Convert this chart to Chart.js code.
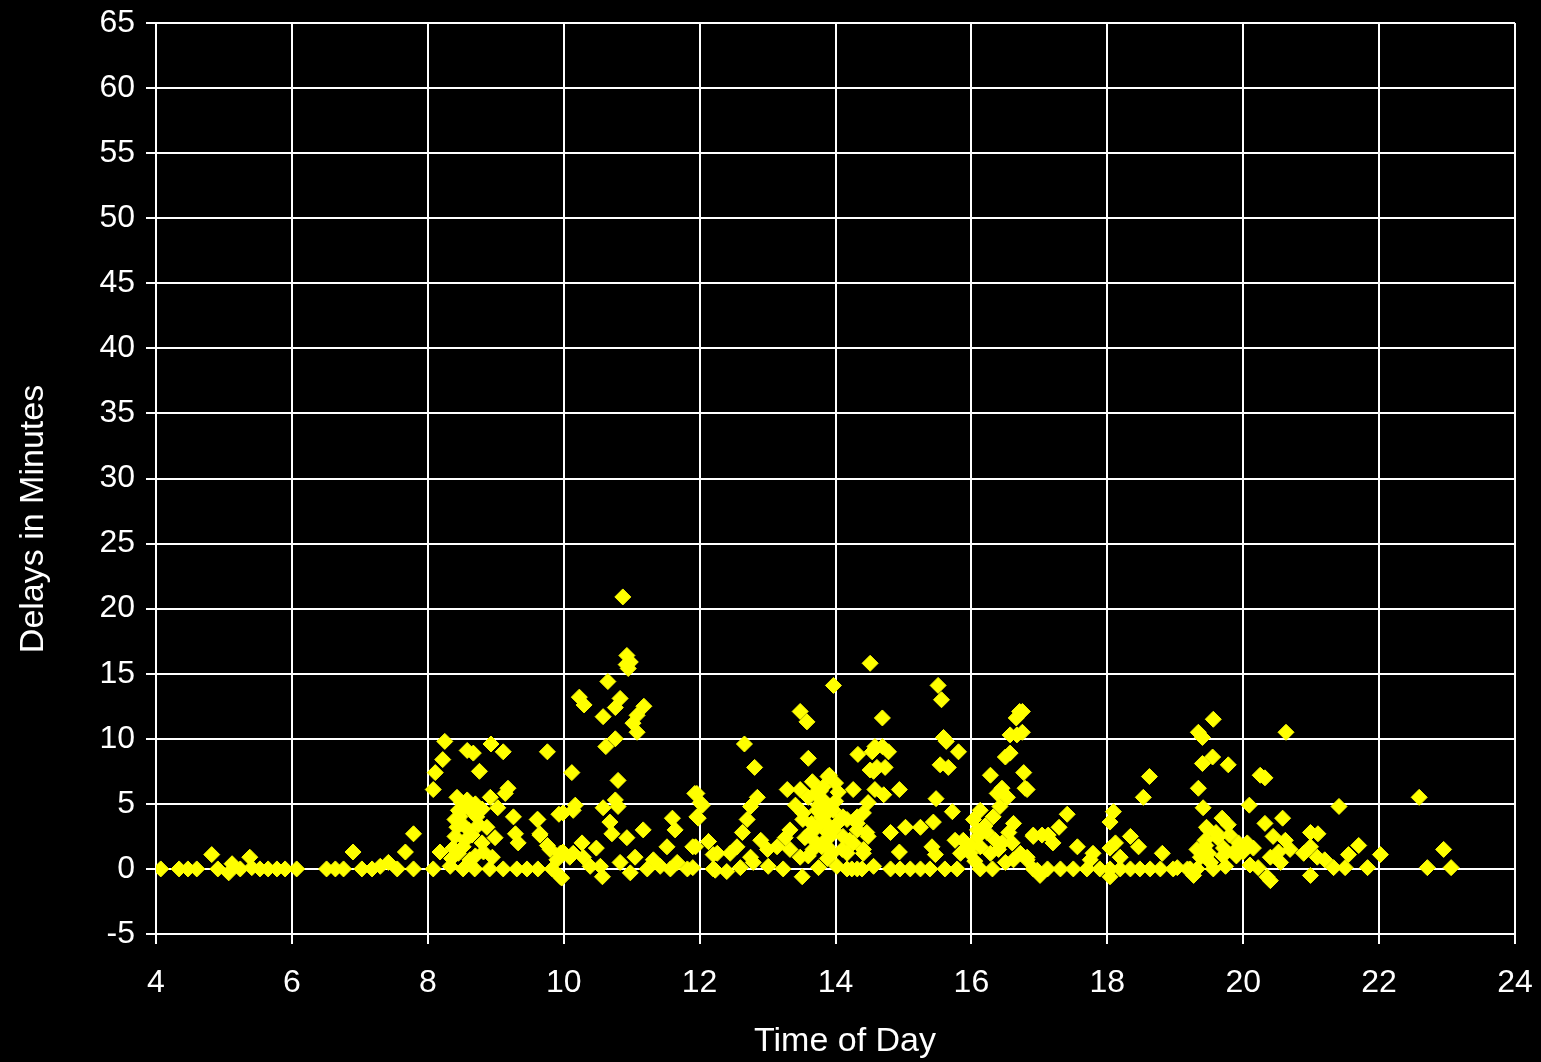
<!DOCTYPE html>
<html>
<head>
<meta charset="utf-8">
<script src="https://cdn.jsdelivr.net/npm/chart.js@4"></script>
<style>
html,body{margin:0;padding:0;background:#000;}
#wrap{width:1541px;height:1062px;}
</style>
</head>
<body>
<div id="wrap"><canvas id="c" width="1541" height="1062"></canvas></div>
<script>
// Time of day (hours) for each observed delay
const times = [
  4.07,4.34,4.47,4.6,4.82,4.91,5.07,5.12,5.24,5.38,5.41,5.53,5.65,5.78,5.9,6.07,6.51,6.64,6.76,6.9,
  7.03,7.18,7.3,7.42,7.55,7.67,7.79,7.79,8.08,8.08,8.11,8.22,8.25,
  8.58,8.67,8.93,9.11,9.76,10.12,8.76,9.18,9.14,8.43,8.58,8.92,9.03,9.26,9.61,8.47,8.72,8.43,8.87,
  9.29,9.33,9.65,8.99,8.52,8.18,8.37,8.82,9.76,9.99,8.33,8.52,8.69,8.91,9.11,9.31,9.46,9.62,9.83,
  9.95,8.62,8.95,9.9,10.14,9.99,10.14,
  8.45,8.55,8.5,8.6,8.4,8.55,8.65,8.45,8.7,8.35,8.6,8.8,8.75,8.5,8.8,8.4,8.65,8.7,
  10.87,10.93,10.98,10.95,10.92,10.65,10.23,10.3,10.83,10.76,11.18,11.08,11.02,11.08,10.58,10.76,
  10.62,10.8,10.17,9.93,10.58,10.76,10.8,9.62,9.65,10.68,10.71,10.27,10.48,10.93,11.17,11.6,11.64,
  11.52,11.93,12.01,11.98,11.9,12.13,12.2,9.95,9.8,10.09,10.29,10.54,10.83,11.05,11.32,11.42,11.67,
  11.82,9.97,10.57,10.98,12.2,10.39,11.23,11.57,
  13.48,13.58,12.66,12.81,13.6,13.89,14.33,14.51,13.29,13.48,13.66,13.82,14.04,14.26,11.96,12.04,
  11.96,12.85,12.75,12.7,12.63,13.41,13.52,13.73,13.87,13.33,13.26,13.63,13.92,13.8,14.32,14.32,
  14.26,14.41,14.46,12.13,11.94,12.26,12.45,12.55,12.75,12.9,13.0,13.14,13.33,13.48,13.67,12.23,
  12.4,12.6,12.79,13.01,13.23,13.51,13.75,14.02,14.17,14.32,11.9,13.52,13.82,13.97,14.11,13.97,
  14.11,13.73,13.97,
  13.6,13.7,13.75,13.8,13.65,13.85,13.9,14.0,14.05,13.95,14.1,13.7,13.55,14.0,13.78,13.6,13.88,
  14.51,15.51,15.56,14.69,15.59,15.63,15.81,16.71,16.66,16.67,16.57,16.57,16.5,16.77,16.79,16.28,
  16.45,16.53,16.38,14.58,14.69,14.78,14.54,14.61,14.73,14.56,13.91,14.58,14.71,14.94,15.54,15.66,
  15.48,15.72,14.48,14.41,14.32,14.48,14.81,15.03,15.25,15.44,15.42,15.47,14.94,15.76,15.88,16.03,
  16.13,16.32,16.42,16.62,16.09,16.23,15.84,15.98,16.13,16.28,16.45,16.6,16.91,16.72,16.62,16.82,
  16.97,13.88,13.88,13.88,14.17,14.21,14.17,14.41,14.24,14.39,14.56,14.81,14.95,15.1,15.25,15.39,
  15.61,15.79,16.13,16.31,16.5,
  16.2,16.35,16.4,16.1,16.55,16.0,15.9,16.05,
  16.75,16.75,16.82,17.41,17.29,17.2,17.13,16.91,17.04,17.56,18.09,18.04,18.62,18.53,18.34,18.46,
  18.12,18.04,18.81,17.79,19.37,19.44,19.49,19.41,19.34,19.4,19.55,19.34,19.4,19.56,
  16.91,17.12,17.31,17.5,17.7,17.89,18.04,18.19,18.34,18.48,18.63,18.78,18.97,19.18,19.32,
  17.01,18.04,19.27,16.82,17.75,18.19,
  20.63,19.78,20.32,20.25,22.59,20.09,21.41,19.69,19.78,20.58,20.32,19.46,20.99,21.1,20.44,19.62,
  21.7,22.02,22.95,21.55,20.62,20.69,19.32,19.93,20.06,20.15,19.86,19.49,19.71,20.99,20.89,20.52,
  20.4,19.52,19.03,19.22,19.56,19.74,20.1,20.22,20.35,20.55,20.99,21.2,21.33,21.5,21.83,22.71,
  23.06,21.09,20.4,
  19.6,19.7,19.45,19.8,19.9,20.0
];

// Delay in minutes for each observation (same order as times)
const delays = [
  0,0,0,0,1.1,0,-0.3,0.4,0,0.9,0.1,0,0,0,0,0,0,0,0,1.3,
  0,0,0.2,0.5,0,1.3,2.7,0,0,6.1,7.4,8.4,9.8,
  9.1,8.9,9.6,9.0,9.0,7.4,7.5,6.2,5.8,5.5,5.3,5.5,4.7,4.0,3.8,4.0,4.0,3.2,3.2,
  2.7,2.0,2.7,2.4,1.7,1.3,1.6,1.3,1.8,1.3,0.2,0,0,0,0,0,0,0,0,
  -0.6,0.7,0.9,0.7,4.5,4.3,1.2,
  4.5,4.8,3.5,3.0,2.5,2.2,2.6,1.2,1.0,0.8,0.4,2.0,3.4,5.1,4.6,3.8,4.4,5.0,
  20.9,16.4,15.9,15.4,15.7,14.4,13.2,12.6,13.1,12.4,12.5,11.8,11.2,10.5,11.7,10.0,
  9.4,6.8,4.9,4.2,4.7,5.3,4.8,3.8,2.6,3.6,2.7,2.0,1.6,2.4,3.0,3.9,3.0,
  1.7,5.8,5.1,3.9,1.7,2.1,1.1,1.2,1.5,0.9,0.9,0.2,0.5,0.9,0.7,0.2,0.5,
  0,-0.7,-0.6,-0.3,0,0.2,0,0,
  12.1,11.3,9.6,7.8,8.5,7.1,8.8,7.6,6.1,6.1,6.7,6.3,5.9,6.1,5.8,4.9,
  4.0,5.5,4.8,3.8,2.8,4.9,4.3,4.5,3.5,3.0,2.4,2.8,2.5,1.7,4.0,3.0,
  2.0,1.5,2.8,2.1,1.7,1.2,1.2,1.7,0.9,2.2,1.5,1.7,1.5,0.9,1.5,-0.1,
  -0.2,0.1,0.5,0.2,0,-0.6,0.1,0.2,0,0,0.1,3.8,5.3,4.5,4.0,3.0,
  2.5,3.2,14.1,
  5.5,5.8,4.9,4.0,3.5,2.2,4.6,5.2,3.6,1.2,1.5,2.1,2.4,6.6,6.0,1.0,0.8,
  15.8,14.1,13.0,11.6,10.1,9.8,9.0,12.1,11.6,10.3,10.3,8.9,8.6,7.4,6.2,7.2,
  6.2,5.5,5.8,9.4,9.4,9.0,9.0,7.8,7.8,7.5,7.2,6.1,5.7,6.1,8.0,7.8,
  5.4,4.4,5.1,4.3,3.5,2.5,2.8,3.2,3.2,3.6,1.7,1.1,1.3,2.2,2.2,3.8,
  4.5,4.0,4.8,3.5,3.0,2.8,1.2,1.2,1.7,1.2,2.0,2.0,2.5,1.2,0.7,0.7,
  -0.1,4.3,2.8,1.7,3.8,2.2,1.2,1.2,0,0,0.2,0,0,0,0,0,
  0,0,0,0,0.5,
  3.3,2.2,1.5,2.5,2.8,1.8,1.5,0.6,
  12.1,10.5,6.1,4.2,3.2,2.0,2.6,2.6,2.6,1.7,4.4,3.6,7.1,5.5,2.5,1.7,
  2.0,1.6,1.2,1.2,0.9,2.2,3.0,4.7,6.2,8.1,8.6,10.5,10.1,11.5,
  0,0,0,0,0,0,0,0,0,0,0,0,0,0,0,
  -0.5,-0.6,-0.5,0.9,0.7,0.9,
  10.5,8.0,7.0,7.2,5.5,4.9,4.8,3.9,3.4,3.9,3.5,3.2,2.8,2.7,2.5,2.4,
  1.8,1.1,1.5,1.1,2.2,1.5,1.5,2.0,2.0,1.6,1.3,1.2,1.6,1.7,1.2,1.3,
  0.9,0.5,0.1,0,0,0.2,0.3,0.1,-0.6,0.5,-0.5,0.7,0.1,0.1,0.1,0.1,
  0.1,0.9,-0.9,
  2.8,1.0,1.8,2.6,1.0,1.3
];

const xTickValues = [4, 6, 8, 10, 12, 14, 16, 18, 20, 22, 24];
const yTickValues = [-5, 0, 5, 10, 15, 20, 25, 30, 35, 40, 45, 50, 55, 60, 65];
const xTitle = 'Time of Day';
const yTitle = 'Delays in Minutes';

const FONT = 'Liberation Sans, Arial, sans-serif';

const bgPlugin = {
  id: 'bg',
  beforeDraw(chart) {
    const c = chart.ctx;
    c.save();
    c.fillStyle = '#000000';
    c.fillRect(0, 0, chart.width, chart.height);
    c.restore();
  }
};

const titlePlugin = {
  id: 'axisTitles',
  afterDraw(chart) {
    const c = chart.ctx;
    c.save();
    c.fillStyle = '#ffffff';
    c.font = '34px ' + FONT;
    c.textAlign = 'center';
    c.textBaseline = 'alphabetic';
    c.fillText(xTitle, 845, 1051);
    c.translate(43, 519);
    c.rotate(-Math.PI / 2);
    c.fillText(yTitle, 0, 0);
    c.restore();
  }
};

const points = times.map((t, i) => ({ x: t, y: delays[i] }));

new Chart(document.getElementById('c').getContext('2d'), {
  type: 'scatter',
  data: {
    datasets: [{
      data: points,
      pointStyle: 'rectRot',
      radius: 8,
      hoverRadius: 8,
      backgroundColor: '#ffff00',
      borderColor: '#ffff00',
      borderWidth: 1
    }]
  },
  options: {
    responsive: false,
    animation: false,
    events: [],
    layout: { padding: { top: 23, right: 26, left: 0, bottom: 0 } },
    plugins: { legend: { display: false }, tooltip: { enabled: false } },
    scales: {
      x: {
        type: 'linear',
        min: 4, max: 24,
        afterBuildTicks: s => { s.ticks = xTickValues.map(v => ({ value: v })); },
        afterFit: s => { s.height = 128; s.paddingLeft = 0; s.paddingRight = 0; s.paddingTop = 0; s.paddingBottom = 0; },
        ticks: { color: '#ffffff', font: { family: FONT, size: 32 }, padding: 20, maxRotation: 0, autoSkip: false },
        grid: { color: '#ffffff', lineWidth: 2, tickLength: 10 },
        border: { color: '#ffffff', width: 2 }
      },
      y: {
        type: 'linear',
        min: -5, max: 65,
        afterBuildTicks: s => { s.ticks = yTickValues.map(v => ({ value: v })); },
        afterFit: s => { s.width = 156; s.paddingLeft = 0; s.paddingRight = 0; s.paddingTop = 0; s.paddingBottom = 0; },
        ticks: { color: '#ffffff', font: { family: FONT, size: 32 }, padding: 11, autoSkip: false },
        grid: { color: '#ffffff', lineWidth: 2, tickLength: 10 },
        border: { color: '#ffffff', width: 2 }
      }
    }
  },
  plugins: [bgPlugin, titlePlugin]
});
</script>
</body>
</html>
